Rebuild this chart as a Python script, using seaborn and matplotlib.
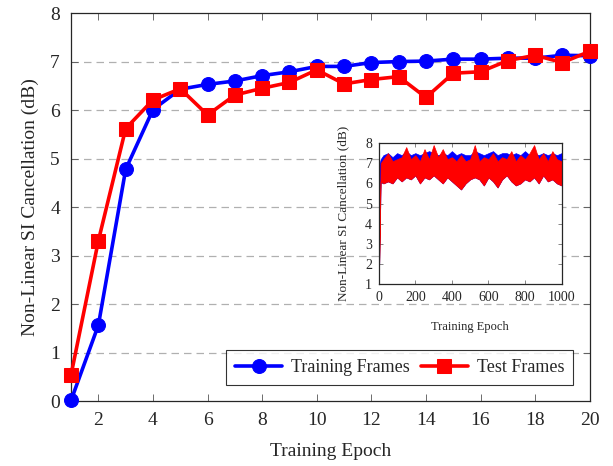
import numpy as np
import pandas as pd
import matplotlib.pyplot as plt
import seaborn as sns

sns.set_style("ticks")
plt.rcParams['font.family'] = ['Liberation Serif', 'DejaVu Serif']

# main curves (20 epochs)
epochs = [1, 2, 3, 4, 5, 6, 7, 8, 9, 10, 11, 12, 13, 14, 15, 16, 17, 18, 19, 20]
train_db = [0.02, 1.57, 4.78, 6.01, 6.43, 6.53, 6.60, 6.71, 6.79, 6.90, 6.90,
            6.98, 7.00, 7.01, 7.05, 7.05, 7.07, 7.07, 7.13, 7.12]
test_db = [0.55, 3.31, 5.62, 6.21, 6.44, 5.90, 6.31, 6.45, 6.57, 6.83, 6.54,
           6.63, 6.69, 6.26, 6.76, 6.79, 7.02, 7.13, 6.98, 7.21]

# inset (1000 epochs), envelopes
inset_epochs = [0, 10, 25, 50, 75, 100, 125, 150, 175, 200, 225, 250, 275, 300,
                325, 350, 375, 400, 425, 450, 475, 500, 525, 550, 575, 600, 625,
                650, 675, 700, 725, 750, 775, 800, 825, 850, 875, 900, 925, 950,
                975, 1000]
train_upper = [6.8, 7.2, 7.4, 7.5, 7.3, 7.5, 7.4, 7.6, 7.4, 7.5, 7.4, 7.5, 7.6, 7.5,
               7.4, 7.5, 7.4, 7.6, 7.4, 7.5, 7.4, 7.4, 7.6, 7.5, 7.4, 7.5, 7.6,
               7.4, 7.5, 7.5, 7.4, 7.5, 7.4, 7.6, 7.4, 7.5, 7.4, 7.5, 7.4, 7.5,
               7.4, 7.5]
test_upper = [1.0, 7.0, 7.2, 7.5, 7.1, 7.2, 7.3, 7.8, 7.2, 7.4, 7.1, 7.7, 7.2, 7.9,
              7.3, 7.7, 7.2, 7.3, 7.1, 7.4, 7.1, 7.2, 7.9, 7.1, 7.3, 7.2, 7.5,
              7.1, 7.3, 7.2, 7.6, 7.1, 7.4, 7.2, 7.5, 7.9, 7.2, 7.5, 7.1, 7.6,
              7.2, 7.1]
test_lower = [1.0, 6.1, 6.0, 6.1, 6.0, 6.3, 6.1, 6.3, 6.2, 6.4, 6.0, 6.3, 6.2, 6.4,
              6.2, 6.0, 6.3, 6.1, 5.9, 5.7, 6.0, 6.2, 6.3, 6.2, 5.9, 6.3, 6.1,
              5.8, 6.2, 6.4, 6.1, 5.9, 6.0, 6.2, 6.1, 6.3, 6.0, 6.4, 6.1, 6.2,
              6.0, 5.9]

df = pd.DataFrame({'epoch': epochs, 'train': train_db, 'test': test_db})

fig = plt.figure(figsize=(6.13, 4.66), dpi=100)
ax = fig.add_axes([0.116, 0.139, 0.846, 0.833])

for y in range(1, 8):
    ax.axhline(y, color='#b0b0b0', lw=0.9, ls=(0, (6, 4)), zorder=0)

sns.lineplot(data=df, x='epoch', y='train', ax=ax, color='blue', lw=2.6,
             marker='o', markersize=10, markeredgecolor='blue', label='Training Frames',
             clip_on=False, zorder=3)
sns.lineplot(data=df, x='epoch', y='test', ax=ax, color='red', lw=2.6,
             marker='s', markersize=10, markeredgecolor='red', label='Test Frames',
             clip_on=False, zorder=4)

ax.set_xlim(1, 20)
ax.set_ylim(0, 8)
ax.set_xticks(range(2, 21, 2))
ax.set_yticks(range(0, 9))
ax.tick_params(direction='in', top=True, right=True, length=5, width=0.6,
               labelsize=14, color='#555555', pad=8)
for s in ax.spines.values():
    s.set_linewidth(0.9)
ax.set_xlabel('Training Epoch', fontsize=14, labelpad=10)
ax.set_ylabel('Non-Linear SI Cancellation (dB)', fontsize=14, labelpad=8)
leg = ax.legend(loc='lower right', ncol=2, fontsize=13, frameon=True, fancybox=False,
                edgecolor='black', borderaxespad=0.9, handlelength=2.6,
                columnspacing=0.6, handletextpad=0.5, borderpad=0.5)
leg.get_frame().set_linewidth(0.8)

# inset
ins = fig.add_axes([0.618, 0.39, 0.298, 0.303])
ins.set_facecolor('white')
ins.fill_between(inset_epochs, test_lower, train_upper, color='blue', lw=0.5)
ins.fill_between(inset_epochs, test_lower, test_upper, color='red', lw=0.5)
ins.set_xlim(0, 1000)
ins.set_ylim(1, 8)
ins.set_xticks(range(0, 1001, 200))
ins.set_yticks(range(1, 9))
ins.tick_params(direction='in', top=True, right=True, length=3, width=0.5,
                labelsize=10, pad=5, color='#555555')
for s in ins.spines.values():
    s.set_linewidth(0.9)
ins.set_xlabel('Training Epoch', fontsize=9, labelpad=12)
ins.set_ylabel('Non-Linear SI Cancellation (dB)', fontsize=9.5, labelpad=11)

fig.savefig('out.png', dpi=100)
